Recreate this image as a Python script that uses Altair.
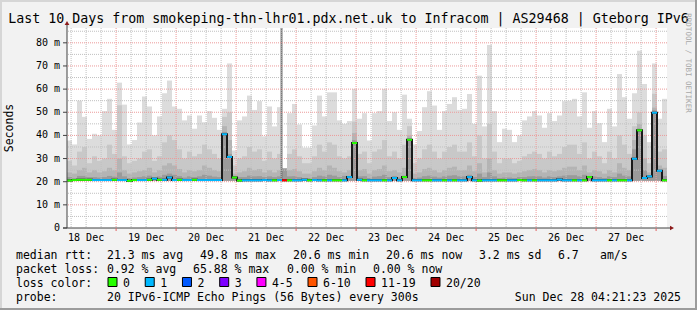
import altair as alt
import pandas as pd
from datetime import datetime

FONT = "DejaVu Sans Mono"

title_text = "Last 10 Days from smokeping-thn-lhr01.pdx.net.uk to Infracom | AS29468 | Gteborg IPv6"
window_start = datetime(2025, 12, 18, 4, 21, 23)
window_hours = 240
column_hours = 2

# --- smoke (ping distribution per column), values in ms ---
smoke_max = [
    37.8, 36.1, 55.0, 48.0, 38.5, 40.7, 40.0, 50.5, 55.8, 42.4,
    62.8, 53.3, 36.1, 38.0, 45.6, 56.8, 52.5, 40.0, 48.2, 58.2,
    63.7, 52.5, 51.5, 46.5, 48.6, 42.9, 48.6, 45.7, 50.5, 47.6,
    42.4, 51.5, 71.1, 33.5, 46.5, 48.2, 57.2, 51.0, 54.8, 39.6,
    52.5, 43.9, 52.2, 25.7, 49.6, 53.6, 44.7, 34.7, 34.7, 44.3,
    57.2, 48.2, 58.6, 58.6, 46.5, 45.0, 46.2, 60.1, 47.2, 49.6,
    37.8, 49.6, 50.5, 60.1, 46.2, 50.0, 42.4, 57.6, 47.2, 36.1,
    41.9, 52.2, 59.1, 52.9, 42.4, 50.5, 53.6, 56.5, 51.0, 51.5,
    57.9, 45.0, 65.8, 43.9, 79.1, 50.5, 37.1, 42.9, 42.4, 37.1,
    40.0, 46.5, 48.2, 50.5, 48.6, 43.3, 49.6, 46.2, 48.6, 54.8,
    55.0, 55.8, 48.2, 58.6, 43.3, 50.5, 45.3, 37.1, 51.5, 43.9,
    66.5, 56.5, 47.2, 58.2, 76.6, 62.2, 37.1, 71.1, 47.2, 55.8,
]
smoke_p90 = [
    29, 27, 33, 35, 28, 31, 29, 30, 36, 32,
    53, 31, 28, 29, 30, 33, 34, 29, 31, 37,
    40, 38, 34, 30, 33, 31, 32, 36, 34, 32,
    30, 48, 50, 27, 30, 31, 35, 33, 34, 29,
    33, 30, 32, 25.7, 32, 34, 31, 28, 28, 31,
    36, 33, 37, 36, 31, 30, 31, 46, 32, 33,
    28, 33, 34, 38, 31, 33, 30, 36, 44, 28,
    30, 34, 36, 33, 30, 33, 35, 36, 33, 33,
    37, 31, 40, 30, 45, 33, 28, 30, 30, 28,
    29, 31, 32, 33, 32, 30, 33, 31, 32, 35,
    36, 36, 32, 37, 30, 33, 31, 28, 33, 30,
    40, 36, 32, 44, 50, 40, 28, 58, 33, 34,
]
smoke_p75 = [
    24, 23.5, 25, 26, 24, 25, 24, 24.5, 26, 25,
    30, 25, 23.5, 24, 24.5, 25, 26, 24, 25, 27,
    28, 27, 25.5, 24, 25, 24.5, 25, 27, 26, 25,
    24.5, 44, 38, 23.5, 24, 24.5, 26, 25, 25.5, 24,
    25, 24, 25, 25.7, 25, 25.5, 24.5, 23.5, 23.5, 24.5,
    26, 25, 27, 26, 24.5, 24, 25, 41, 25, 25.5,
    23.5, 25, 25.5, 27, 24.5, 25, 24, 26, 40, 23.5,
    24, 25.5, 26, 25, 24, 25, 26, 26.5, 25, 25,
    27, 24.5, 28, 24, 30, 25, 23.5, 24, 24, 23.5,
    24, 24.5, 25, 25.5, 25, 24, 25, 24.5, 25, 26,
    26.5, 26.5, 25, 27, 24, 25, 24.5, 23.5, 25, 24,
    28, 26, 25, 38, 45, 30, 24, 52, 27, 26,
]
smoke_p60 = [
    22, 21.5, 22.5, 22.5, 22, 22, 21.8, 22, 22.5, 22.2,
    24, 22.3, 21.6, 21.8, 22, 22.3, 22.6, 22, 22.3, 23,
    23.5, 23, 22.4, 21.8, 22.3, 22, 22.3, 23, 22.6, 22.2,
    22, 41.5, 32, 22.5, 22, 22, 22.6, 22.3, 22.4, 22,
    22.3, 22, 22.3, 25.7, 22.3, 22.4, 22, 21.6, 21.6, 22,
    22.6, 22.3, 23, 22.6, 22, 22.5, 22.5, 38, 22.3, 22.4,
    21.6, 22.2, 22.4, 23, 22, 22.5, 21.8, 22.6, 38.5, 21.6,
    21.8, 22.4, 22.6, 22.2, 21.8, 22.3, 22.6, 22.8, 22.3, 22.3,
    23, 22, 23.5, 22, 24, 22.3, 21.6, 21.8, 21.8, 21.6,
    22, 22, 22.3, 22.4, 22.3, 21.8, 22.3, 22, 22.3, 22.6,
    22.8, 22.8, 22.3, 23, 22.5, 22.3, 22, 21.6, 22.3, 22,
    23.5, 22.6, 22.3, 34, 43, 25, 22.5, 51, 25, 22.5,
]
smoke_floor = 20.4

median_rtt = [
    20.5, 20.7, 20.8, 20.8, 20.8, 20.7, 20.7, 20.7, 20.7, 20.8,
    20.7, 20.7, 20.4, 20.7, 20.7, 20.7, 20.8, 21.3, 20.8, 20.8,
    21.8, 20.7, 20.8, 20.7, 20.7, 20.8, 20.7, 20.7, 20.7, 20.7,
    20.7, 40.5, 30.7, 21.8, 20.5, 20.6, 20.6, 20.6, 20.6, 20.7,
    20.6, 20.6, 20.7, 20.6, 20.6, 20.6, 20.6, 20.8, 20.6, 20.7,
    20.6, 20.6, 20.6, 20.6, 20.6, 20.6, 22.0, 36.7, 20.8, 20.6,
    20.6, 20.6, 20.6, 20.6, 20.6, 21.6, 20.6, 22.0, 38.1, 20.6,
    20.6, 20.6, 20.6, 20.6, 20.6, 20.6, 20.6, 20.6, 20.6, 20.6,
    22.0, 20.6, 20.5, 20.6, 20.6, 20.6, 20.6, 20.6, 20.6, 20.6,
    20.7, 20.6, 20.6, 20.6, 20.6, 20.6, 20.6, 20.6, 20.9, 20.6,
    20.6, 20.6, 20.6, 20.6, 22.0, 20.6, 20.6, 20.6, 20.6, 20.6,
    20.6, 20.6, 20.6, 29.9, 42.2, 21.6, 22.3, 49.8, 24.7, 20.6,
]
loss_bucket = [
    0, 0, 0, 0, 0, 1, 1, 1, 1, 0,
    1, 1, 0, 0, 1, 1, 0, 1, 0, 1,
    1, 1, 0, 1, 1, 0, 1, 1, 1, 1,
    1, 1, 1, 0, 0, 1, 1, 1, 1, 1,
    1, 0, 1, 6, 0, 1, 1, 1, 0, 1,
    1, 0, 1, 0, 0, 1, 1, 0, 1, 0,
    1, 1, 1, 0, 1, 1, 1, 0, 0, 1,
    1, 0, 0, 1, 1, 0, 1, 0, 1, 1,
    1, 1, 0, 1, 1, 1, 0, 0, 1, 1,
    0, 0, 1, 0, 1, 1, 1, 1, 1, 1,
    1, 0, 1, 0, 0, 1, 1, 1, 0, 1,
    0, 0, 1, 1, 0, 1, 1, 1, 1, 0,
]
loss_labels = ["0", "1", "2", "3", "4-5", "6-10", "11-19", "20/20"]
loss_colors = ["#26ff00", "#00b8ff", "#0059ff", "#7e00ff", "#ff00ff", "#ff5500", "#ff0000", "#a10000"]

spike_time = datetime(2025, 12, 21, 18, 10)
spike_low, spike_high = 20.6, 120.0

day_labels = ["18 Dec", "19 Dec", "20 Dec", "21 Dec", "22 Dec", "23 Dec", "24 Dec", "25 Dec", "26 Dec", "27 Dec"]
day_dates = [datetime(2025, 12, 18 + k) for k in range(10)]

y_ticks = [0, 10, 20, 30, 40, 50, 60, 70, 80]
y_tick_labels = ["0", "10 m", "20 m", "30 m", "40 m", "50 m", "60 m", "70 m", "80 m"]

median_stats = ["21.3 ms avg", "49.8 ms max", "20.6 ms min", "20.6 ms now", "3.2 ms sd", "6.7", "am/s"]
loss_stats = ["0.92 % avg", "65.88 % max", "0.00 % min", "0.00 % now"]
probe_text = "20 IPv6-ICMP Echo Pings (56 Bytes) every 300s"
stamp_text = "Sun Dec 28 04:21:23 2025"


def hours(dt):
    return (dt - window_start).total_seconds() / 3600.0


n = len(smoke_max)
t0 = [column_hours * i for i in range(n)]
t1 = [column_hours * (i + 1) for i in range(n)]
smoke = pd.DataFrame({
    "t0": t0, "t1": t1, "max": smoke_max, "p90": smoke_p90, "p75": smoke_p75, "p60": smoke_p60,
    "median": median_rtt, "loss": [loss_labels[b] for b in loss_bucket],
})
line_df = pd.DataFrame({"t": t0 + [window_hours], "median": median_rtt + [median_rtt[-1]]})

midnights = [hours(datetime(2025, 12, 19 + k)) for k in range(10)]
six_hours = [hours(datetime(2025, 12, 18 + d, h)) for d in range(11) for h in (0, 6, 12, 18)]
six_hours = [h for h in six_hours if 0 < h < window_hours and all(abs(h - m) > 0.01 for m in midnights)]
vminor = pd.DataFrame({"h": six_hours})
vmajor = pd.DataFrame({"h": midnights})
hminor = pd.DataFrame({"v": [5, 15, 25, 35, 45, 55, 65, 75, 85]})
hmajor = pd.DataFrame({"v": [10, 20, 30, 40, 50, 60, 70, 80]})
days = pd.DataFrame({"h": [hours(d.replace(hour=12)) for d in day_dates], "label": day_labels})
yt = pd.DataFrame({"v": y_ticks, "label": y_tick_labels})
spike = pd.DataFrame({"h": [hours(spike_time)], "lo": [spike_low], "hi": [spike_high]})
one = pd.DataFrame({"k": [0]})

x_scale = alt.Scale(domain=[0, window_hours], nice=False, zero=False)
y_scale = alt.Scale(domain=[0, 86.4], nice=False, zero=False)
loss_scale = alt.Scale(domain=loss_labels, range=loss_colors)

AXC = "#404040"


def X(f):
    return alt.X(f, scale=x_scale, axis=None)


def Y(f):
    return alt.Y(f, scale=y_scale, axis=None)


layers = []
band_colors = [("max", "#dcdcdc"), ("p90", "#c8c8c8"), ("p75", "#b4b4b4"), ("p60", "#9a9a9a")]
for col, c in band_colors:
    layers.append(alt.Chart(smoke).mark_rect(color=c).encode(
        x=X("t0:Q"), x2="t1:Q", y=Y(f"{col}:Q"), y2=alt.datum(smoke_floor)))

layers.append(alt.Chart(spike).mark_rule(color="#7a7a7a", strokeWidth=2, clip=True).encode(
    x=X("h:Q"), y=Y("lo:Q"), y2="hi:Q"))

dot = [1, 1]
GRAY_GRID = "#c0c0c0"
RED_GRID = "#ec9a9a"
layers.append(alt.Chart(hminor).mark_rule(color=GRAY_GRID, strokeDash=dot, strokeWidth=1).encode(y=Y("v:Q")))
layers.append(alt.Chart(vminor).mark_rule(color=GRAY_GRID, strokeDash=dot, strokeWidth=1).encode(x=X("h:Q")))
layers.append(alt.Chart(hmajor).mark_rule(color=RED_GRID, strokeDash=dot, strokeWidth=1).encode(y=Y("v:Q")))
layers.append(alt.Chart(vmajor).mark_rule(color=RED_GRID, strokeDash=dot, strokeWidth=1).encode(x=X("h:Q")))

layers.append(alt.Chart(line_df).mark_line(interpolate="step-after", color="#1a1a1a", strokeWidth=2).encode(
    x=X("t:Q"), y=Y("median:Q")))
layers.append(alt.Chart(smoke).mark_rule(strokeWidth=2).encode(
    x=X("t0:Q"), x2="t1:Q", y=Y("median:Q"),
    color=alt.Color("loss:N", scale=loss_scale, legend=None)))

# axes drawn from scales
layers.append(alt.Chart(one).mark_rule(color=AXC).encode(x=alt.value(0), y=alt.value(-4), y2=alt.value(200)))
layers.append(alt.Chart(one).mark_rule(color=AXC).encode(x=alt.value(-4), x2=alt.value(604), y=alt.value(200)))
layers.append(alt.Chart(yt).mark_rule(color=AXC).encode(x=alt.value(-4), x2=alt.value(0), y=Y("v:Q")))
layers.append(alt.Chart(yt).mark_text(font=FONT, fontSize=10, align="right", baseline="middle",
                                      color="#000000").encode(x=alt.value(-7), y=Y("v:Q"), text="label:N"))
layers.append(alt.Chart(vmajor).mark_rule(color="#e06060").encode(x=X("h:Q"), y=alt.value(200), y2=alt.value(203)))
layers.append(alt.Chart(days).mark_text(font=FONT, fontSize=10, align="center", baseline="alphabetic",
                                        color="#000000").encode(x=X("h:Q"), y=alt.value(213.3), text="label:N"))

ARROW = "#8b1a1a"
layers.append(alt.Chart(one).mark_point(shape="triangle-up", filled=True, color=ARROW, size=22, opacity=1).encode(
    x=alt.value(0), y=alt.value(-5)))
layers.append(alt.Chart(one).mark_point(shape="triangle-right", filled=True, color=ARROW, size=22, opacity=1).encode(
    x=alt.value(605), y=alt.value(200)))


def text_layer(s, x, y, size=11.5, align="left", color="#000000", angle=0, baseline="alphabetic"):
    return alt.Chart(one).mark_text(font=FONT, fontSize=size, align=align, baseline=baseline,
                                    color=color, angle=angle).encode(
        x=alt.value(x), y=alt.value(y), text=alt.value(s))


layers.append(text_layer("Seconds", -57, 100, size=11.5, align="center", angle=270, baseline="middle"))
layers.append(text_layer(title_text, 281.5, -5.5, size=13.3, align="center"))
layers.append(text_layer("RRDTOOL / TOBI OETIKER", 621, 35, size=7.5, align="center",
                         color="#a8a8a8", angle=90, baseline="middle"))

# legend lines
L1, L2, L3, L4 = 230.5, 244.5, 258.5, 272.5
LX = -51
layers.append(text_layer("median rtt:", LX, L1))
for s, x in zip(median_stats, [40, 133, 226, 319, 412, 491, 533]):
    layers.append(text_layer(s, x, L1))
layers.append(text_layer("packet loss:", LX, L2))
for s, x in zip(loss_stats, [40, 126, 220, 306]):
    layers.append(text_layer(s, x, L2))
layers.append(text_layer("loss color:", LX, L3))
cw = 6.93
sx = 41.0
for lab, col in zip(loss_labels, loss_colors):
    layers.append(alt.Chart(one).mark_rect(color=col, stroke="#000000", strokeWidth=1).encode(
        x=alt.value(sx), x2=alt.value(sx + 9), y=alt.value(249.5), y2=alt.value(258.5)))
    layers.append(text_layer(lab, sx + 15, L3))
    sx += 30.3 + cw * len(lab)
layers.append(text_layer("probe:", LX, L4))
layers.append(text_layer(probe_text, 40, L4))
layers.append(text_layer(stamp_text, 614, L4, align="right"))

# image frame (decoration)
for (x0, x1, y0, y1, c) in [(-67, 630, -28, -26, "#d6d6d6"), (-67, -65, -28, 282, "#d6d6d6"),
                            (628, 630, -28, 282, "#9c9c9c"), (-67, 630, 280, 282, "#9c9c9c")]:
    layers.append(alt.Chart(one).mark_rect(color=c).encode(
        x=alt.value(x0), x2=alt.value(x1), y=alt.value(y0), y2=alt.value(y1)))

chart = alt.layer(*layers).properties(
    width=600, height=200, background="#f2f2f2",
    padding={"left": 67, "top": 28, "right": 30, "bottom": 82},
    autosize=alt.AutoSizeParams(type="none"),
).configure_view(strokeWidth=0, fill="#ffffff")

chart.save("out.html", embed_options={"renderer": "svg", "actions": False})
